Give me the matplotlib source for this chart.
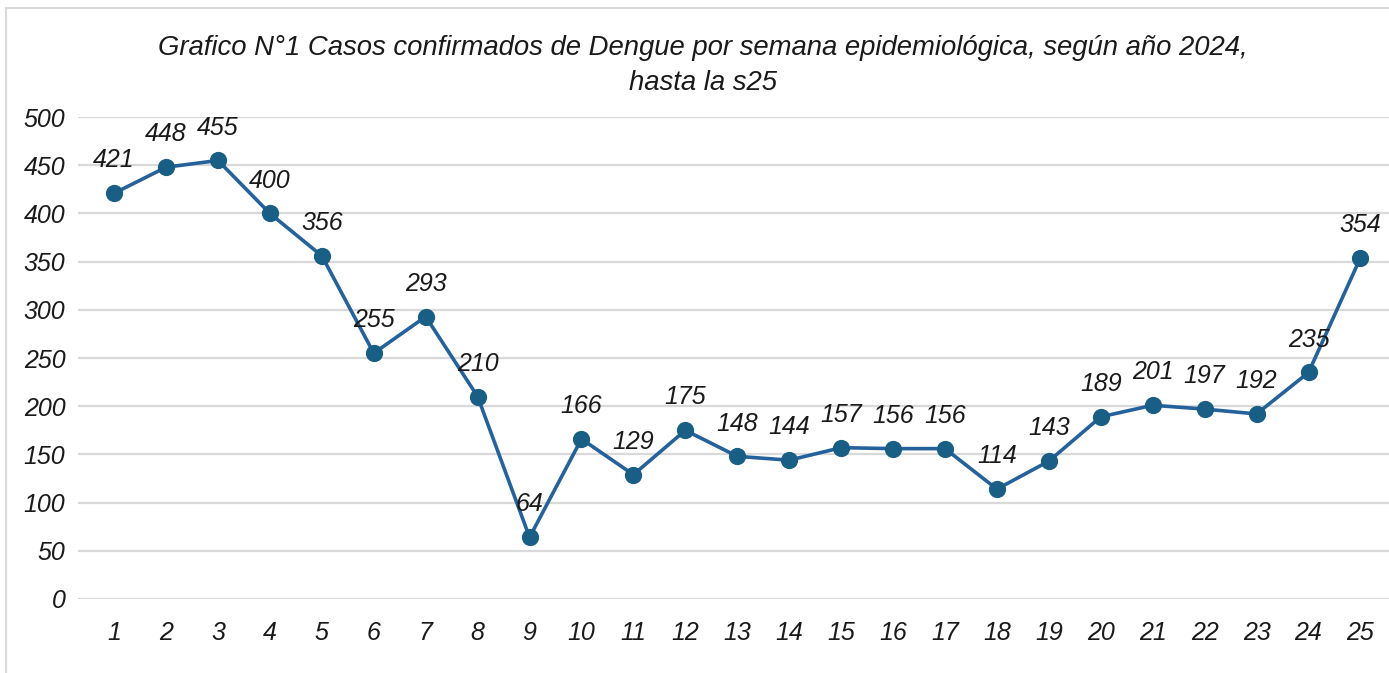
import matplotlib
matplotlib.use('Agg')
from matplotlib import pyplot as plt
from matplotlib.lines import Line2D

semanas = [str(i) for i in range(1, 26)]
casos = [421, 448, 455, 400, 356, 255, 293, 210, 64, 166, 129, 175, 148,
         144, 157, 156, 156, 114, 143, 189, 201, 197, 192, 235, 354]
y_ticks = [0, 50, 100, 150, 200, 250, 300, 350, 400, 450, 500]

titulo = 'Grafico N°1 Casos confirmados de Dengue por semana epidemiológica, según año 2024,\nhasta la s25'

plt.rcParams['font.family'] = ['Liberation Sans Narrow', 'Liberation Sans', 'DejaVu Sans']
plt.rcParams['font.style'] = 'italic'

fig = plt.figure(figsize=(13.89, 6.73), dpi=100)
ax = fig.add_axes([0.056, 0.110, 0.944, 0.716])

x = list(range(1, len(casos) + 1))
ax.plot(x, casos, color='#25629c', linewidth=2.6, zorder=3, clip_on=False)
ax.scatter(x, casos, s=130, color='#195f85', zorder=4, clip_on=False)

for xi, yi in zip(x, casos):
    ax.annotate(str(yi), (xi, yi), xytext=(0, 15), textcoords='offset points',
                ha='center', va='bottom', fontsize=18, color='#1a1a1a',
                style='italic', zorder=5)

ax.set_xlim(0.3, 25.55)
ax.set_ylim(0, 500)
ax.set_yticks(y_ticks)
ax.set_xticks(x)
ax.set_xticklabels(semanas)
ax.tick_params(axis='both', length=0, labelsize=18, colors='#1a1a1a')
ax.tick_params(axis='x', pad=16)
ax.tick_params(axis='y', pad=9)
ax.grid(axis='y', color='#d9d9d9', linewidth=1.6)
ax.set_axisbelow(True)
for s in ax.spines.values():
    s.set_visible(False)

fig.text(0.506, 0.948, titulo, ha='center', va='top', fontsize=19.8,
         style='italic', color='#1a1a1a', linespacing=1.45)

# borde del grafico
fig.add_artist(Line2D([6/1389, 6/1389], [0, 1 - 8/673], transform=fig.transFigure,
                      color='#d9d9d9', linewidth=1.5))
fig.add_artist(Line2D([6/1389, 1], [1 - 8/673, 1 - 8/673], transform=fig.transFigure,
                      color='#d9d9d9', linewidth=1.5))

fig.savefig('out.png', dpi=100, facecolor='white')
